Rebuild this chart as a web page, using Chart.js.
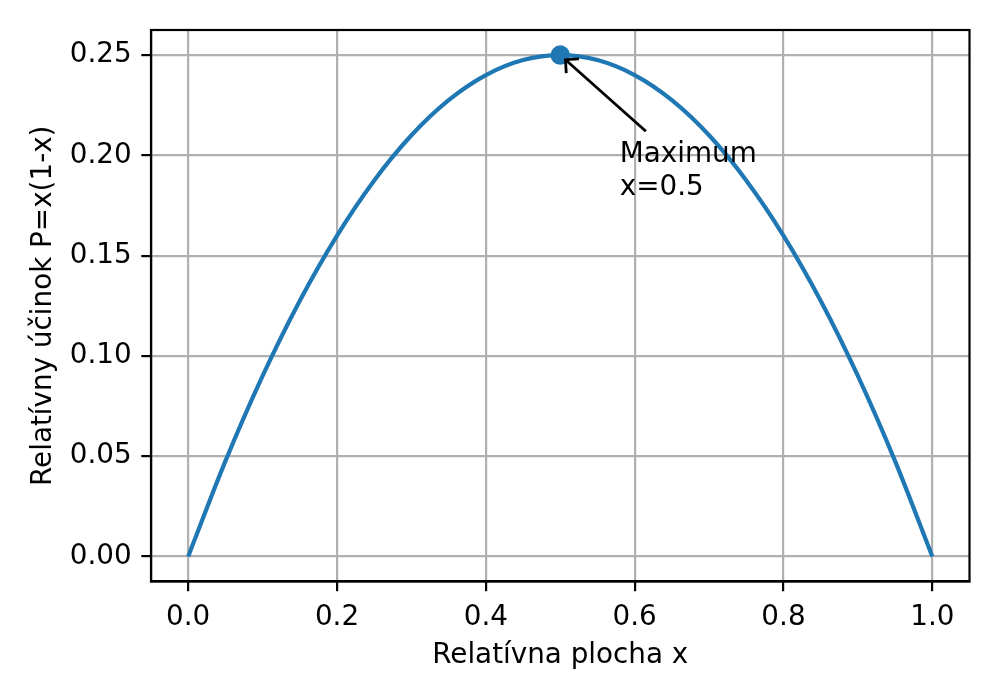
<!DOCTYPE html>
<html>
<head>
<meta charset="utf-8">
<script src="https://cdn.jsdelivr.net/npm/chart.js@4/dist/chart.umd.min.js"></script>
<style>
  html, body { margin: 0; padding: 0; background: #ffffff; }
  #wrap { width: 1000px; height: 700px; }
</style>
</head>
<body>
<div id="wrap"><canvas id="c" width="1000" height="700"></canvas></div>
<script>
// ---- data ----
const xValues = [0, 0.05, 0.1, 0.15, 0.2, 0.25, 0.3, 0.35, 0.4, 0.45, 0.5, 0.55, 0.6, 0.65, 0.7, 0.75, 0.8, 0.85, 0.9, 0.95, 1.0];
const pValues = [0, 0.0475, 0.09, 0.1275, 0.16, 0.1875, 0.21, 0.2275, 0.24, 0.2475, 0.25, 0.2475, 0.24, 0.2275, 0.21, 0.1875, 0.16, 0.1275, 0.09, 0.0475, 0];
const maxPoint = [0.5, 0.25];
const xTickValues = [0, 0.2, 0.4, 0.6, 0.8, 1.0];
const xTickLabels = ['0.0', '0.2', '0.4', '0.6', '0.8', '1.0'];
const yTickValues = [0, 0.05, 0.1, 0.15, 0.2, 0.25];
const yTickLabels = ['0.00', '0.05', '0.10', '0.15', '0.20', '0.25'];
const xTitle = 'Relatívna plocha x';
const yTitle = 'Relatívny účinok P=x(1-x)';
const annotationLines = ['Maximum', 'x=0.5'];
const annotationTextPos = [0.58, 0.18];
const annotationArrowTail = [0.615, 0.212];

// ---- styles ----
const FONT = 'DejaVu Sans';
const FS = 27.8;
const BLUE = '#1f77b4';
const GRID = '#b0b0b0';
const LW_AX = 2.2;

const annotationPlugin = {
  id: 'annot',
  afterDatasetsDraw(chart) {
    const ctx = chart.ctx;
    const xs = chart.scales.x, ys = chart.scales.y;
    ctx.save();
    ctx.font = FS + 'px "' + FONT + '"';
    ctx.fillStyle = '#000';
    ctx.textAlign = 'left';
    ctx.textBaseline = 'alphabetic';
    const tx = xs.getPixelForValue(annotationTextPos[0]);
    const ty = ys.getPixelForValue(annotationTextPos[1]);
    const lh = FS * 1.2;
    const n = annotationLines.length;
    annotationLines.forEach((t, i) => {
      ctx.fillText(t, tx, ty - (n - 1 - i) * lh);
    });
    const px = xs.getPixelForValue(maxPoint[0]);
    const py = ys.getPixelForValue(maxPoint[1]);
    const ax = xs.getPixelForValue(annotationArrowTail[0]);
    const ay = ys.getPixelForValue(annotationArrowTail[1]);
    const dx = ax - px, dy = ay - py;
    const len = Math.hypot(dx, dy);
    const ux = dx / len, uy = dy / len;
    const hx = px + ux * 7, hy = py + uy * 7;
    ctx.strokeStyle = '#000';
    ctx.lineWidth = 2.8;
    ctx.lineCap = 'butt';
    ctx.beginPath();
    ctx.moveTo(ax, ay);
    ctx.lineTo(hx, hy);
    ctx.stroke();
    const hl = 9.5, hw = 9.5;
    ctx.beginPath();
    ctx.moveTo(hx + ux * hl - uy * hw, hy + uy * hl + ux * hw);
    ctx.lineTo(hx, hy);
    ctx.lineTo(hx + ux * hl + uy * hw, hy + uy * hl - ux * hw);
    ctx.stroke();
    ctx.restore();
  },
  afterDraw(chart) {
    const ctx = chart.ctx;
    const a = chart.chartArea;
    ctx.save();
    ctx.strokeStyle = '#000';
    ctx.lineWidth = LW_AX;
    ctx.strokeRect(a.left, a.top, a.right - a.left, a.bottom - a.top);
    ctx.restore();
  }
};

const ctx = document.getElementById('c').getContext('2d');
new Chart(ctx, {
  type: 'scatter',
  data: {
    datasets: [
      {
        label: 'max',
        data: [{ x: maxPoint[0], y: maxPoint[1] }],
        backgroundColor: BLUE,
        borderColor: BLUE,
        borderWidth: 2.8,
        pointRadius: 8.35,
        showLine: false,
        order: 0
      },
      {
        label: 'P',
        data: xValues.map((x, i) => ({ x: x, y: pValues[i] })),
        borderColor: BLUE,
        backgroundColor: BLUE,
        borderWidth: 4.2,
        pointRadius: 0,
        showLine: true,
        cubicInterpolationMode: 'monotone',
        fill: false,
        order: 1
      }
    ]
  },
  options: {
    responsive: false,
    devicePixelRatio: 1,
    animation: false,
    layout: { padding: { left: 0, right: 30.5, top: 30, bottom: 0 } },
    plugins: { legend: { display: false }, tooltip: { enabled: false } },
    scales: {
      x: {
        type: 'linear',
        min: -0.05,
        max: 1.05,
        afterBuildTicks(s) { s.ticks = xTickValues.map(v => ({ value: v })); },
        afterFit(s) { s.height = 118.5; },
        ticks: {
          autoSkip: false,
          maxRotation: 0,
          padding: 9.7,
          color: '#000',
          font: { family: FONT, size: FS },
          callback: (v) => xTickLabels[xTickValues.indexOf(v)]
        },
        grid: {
          color: GRID,
          lineWidth: LW_AX,
          tickColor: '#000',
          tickLength: 9.7,
          tickWidth: LW_AX
        },
        border: { display: true, color: '#000', width: LW_AX },
        title: {
          display: true,
          text: xTitle,
          color: '#000',
          font: { family: FONT, size: FS },
          padding: { top: 0, bottom: 28 }
        }
      },
      y: {
        type: 'linear',
        min: -0.0125,
        max: 0.2625,
        afterBuildTicks(s) { s.ticks = yTickValues.map(v => ({ value: v })); },
        afterFit(s) { s.width = 151; },
        ticks: {
          autoSkip: false,
          padding: 9.7,
          color: '#000',
          font: { family: FONT, size: FS },
          callback: (v) => yTickLabels[yTickValues.indexOf(v)]
        },
        grid: {
          color: GRID,
          lineWidth: LW_AX,
          tickColor: '#000',
          tickLength: 9.7,
          tickWidth: LW_AX
        },
        border: { display: true, color: '#000', width: LW_AX },
        title: {
          display: true,
          text: yTitle,
          color: '#000',
          font: { family: FONT, size: FS },
          padding: { top: 27, bottom: 0 }
        }
      }
    }
  },
  plugins: [annotationPlugin]
});
</script>
</body>
</html>
